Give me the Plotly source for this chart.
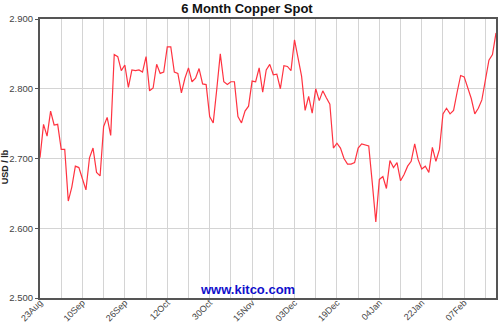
import plotly.graph_objects as go

# Daily copper spot (USD / lb), 23 Aug -> end of Feb, trading days
prices = [
    2.701, 2.749, 2.732, 2.768, 2.748, 2.749, 2.713, 2.713, 2.639, 2.659,
    2.689, 2.687, 2.671, 2.655, 2.701, 2.715, 2.680, 2.675, 2.746, 2.759,
    2.733, 2.849, 2.846, 2.826, 2.834, 2.802, 2.827, 2.826, 2.827, 2.824,
    2.846, 2.797, 2.801, 2.835, 2.822, 2.824, 2.860, 2.860, 2.824, 2.822,
    2.794, 2.815, 2.830, 2.810, 2.815, 2.829, 2.807, 2.806, 2.760, 2.751,
    2.799, 2.850, 2.810, 2.806, 2.810, 2.810, 2.760, 2.751, 2.768, 2.775,
    2.811, 2.810, 2.830, 2.795, 2.827, 2.835, 2.820, 2.821, 2.800, 2.833,
    2.832, 2.826, 2.870, 2.844, 2.818, 2.769, 2.789, 2.765, 2.800, 2.783,
    2.797, 2.787, 2.778, 2.715, 2.722, 2.715, 2.700, 2.692, 2.692, 2.694,
    2.715, 2.721, 2.720, 2.718, 2.665, 2.609, 2.670, 2.674, 2.657, 2.697,
    2.687, 2.694, 2.668, 2.677, 2.689, 2.696, 2.721, 2.698, 2.685, 2.689,
    2.680, 2.716, 2.696, 2.713, 2.764, 2.772, 2.764, 2.769, 2.795, 2.819,
    2.817, 2.801, 2.786, 2.764, 2.772, 2.784, 2.810, 2.841, 2.849, 2.880,
]
day_index = list(range(len(prices)))

tick_labels = ["23Aug", "10Sep", "26Sep", "12Oct", "30Oct", "15Nov",
               "03Dec", "19Dec", "04Jan", "22Jan", "07Feb"]
label_step = 12
grid_step = 6
y_ticks = [2.5, 2.6, 2.7, 2.8, 2.9]
y_tick_text = ["2.500", "2.600", "2.700", "2.800", "2.900"]

# Grid every 6 days, labels every 12 days
grid_vals = list(range(0, len(prices), grid_step))
grid_text = []
for v in grid_vals:
    if v % label_step == 0 and v // label_step < len(tick_labels):
        grid_text.append(tick_labels[v // label_step])
    else:
        grid_text.append("")

fig = go.Figure()
fig.add_trace(go.Scatter(
    x=day_index, y=prices, mode="lines",
    line=dict(color="#ff3340", width=1.2),
    hoverinfo="skip",
))

fig.update_layout(
    width=502, height=325,
    margin=dict(l=40, r=6, t=19, b=27, autoexpand=False),
    paper_bgcolor="white", plot_bgcolor="white",
    showlegend=False,
    title=dict(text="<b>6 Month Copper Spot</b>", x=0.492, xanchor="center",
               y=0.974, yanchor="middle",
               font=dict(family="Liberation Sans, Arial", size=13, color="#111")),
    font=dict(family="Liberation Sans, Arial", color="#333"),
    annotations=[
        dict(text="<b>www.kitco.com</b>", xref="paper", yref="paper",
             x=0.455, y=0.032, xanchor="center", yanchor="middle", showarrow=False,
             font=dict(family="Liberation Sans, Arial", size=13, color="#1010cc")),
        dict(text="<b>USD / lb</b>", xref="paper", yref="paper",
             x=-0.076, y=0.47, xanchor="center", yanchor="middle", showarrow=False,
             textangle=-90,
             font=dict(family="Liberation Sans, Arial", size=9, color="#222")),
    ],
)

fig.update_xaxes(
    range=[0, len(prices) - 1],
    tickmode="array", tickvals=grid_vals, ticktext=grid_text,
    tickangle=-45, tickfont=dict(size=9, color="#444"),
    ticklabelstandoff=-6,
    showgrid=True, gridcolor="#d4d4d4", gridwidth=1,
    showline=True, linecolor="#555", linewidth=2, mirror=True,
    ticks="", zeroline=False, automargin=False,
)
fig.update_yaxes(
    range=[2.5, 2.9],
    tickmode="array", tickvals=y_ticks, ticktext=y_tick_text,
    tickfont=dict(size=9.5, color="#444"),
    ticks="outside", ticklen=3, tickcolor="#555",
    showgrid=True, gridcolor="#d4d4d4", gridwidth=1,
    showline=True, linecolor="#555", linewidth=2, mirror=True,
    zeroline=False, automargin=False,
)

fig.write_html("out.html")
